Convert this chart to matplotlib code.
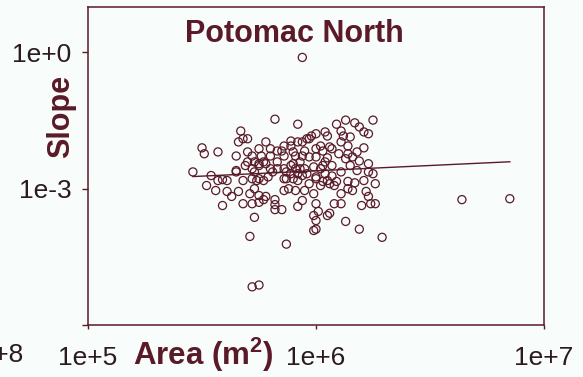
import numpy as np
import matplotlib
matplotlib.use("Agg")
import matplotlib.pyplot as plt

plt.rcParams['font.family'] = ['Liberation Sans', 'DejaVu Sans']
plt.rcParams['mathtext.fontset'] = 'custom'
plt.rcParams['mathtext.bf'] = 'Liberation Sans:bold'
plt.rcParams['mathtext.rm'] = 'Liberation Sans'

# Drainage area (log10 m^2) and channel slope (log10) for each reach
log_area = [
    5.94, 6.64, 6.85, 5.72, 5.75, 5.71, 5.87, 6.29, 6.19, 6.13, 5.99, 6.00, 5.73, 5.59, 5.46,
    5.50, 5.51, 5.57, 5.54, 5.57, 5.61, 5.59, 5.65, 5.67, 5.66, 5.68, 5.70, 5.70, 5.65, 5.70,
    5.72, 5.75, 5.73, 5.74, 5.68, 5.72, 5.65, 5.52, 5.56, 5.61, 5.63, 5.66, 5.68, 5.72, 5.71,
    5.73, 5.73, 5.69, 5.72, 5.75, 5.76, 5.75, 5.75, 5.75, 5.75,
    5.77, 5.78, 5.78, 5.80, 5.82, 5.83, 5.83, 5.86, 5.86, 5.89, 5.89, 5.90, 5.92, 5.92, 5.77,
    5.81, 5.86, 5.87, 5.90, 5.92, 5.77, 5.78, 5.82, 5.82, 5.82, 5.85, 5.92, 5.89, 5.80, 5.91,
    5.83, 5.80, 5.79, 5.88, 5.91, 5.86, 5.87, 5.85, 5.90,
    5.94, 5.96, 5.98, 6.00, 6.04, 6.05, 6.02, 6.00, 5.95, 6.06, 6.05, 5.97, 5.93, 6.03, 5.99,
    6.07, 6.11, 5.94, 5.92, 6.00, 6.02, 5.97, 6.05, 6.08, 5.95, 5.99, 6.11, 5.94, 6.00, 6.01,
    5.99, 6.00, 6.05, 6.06, 6.08, 6.11, 6.03, 5.97, 6.03, 5.94, 6.00, 6.04, 5.95, 6.02, 6.07,
    6.09, 6.09, 6.11, 6.07, 6.10, 6.11,
    6.13, 6.17, 6.19, 6.21, 6.23, 6.25, 6.12, 6.15, 6.14, 6.21, 6.18, 6.14, 6.16, 6.19, 6.23,
    6.18, 6.25, 6.26, 6.21, 6.17, 6.14, 6.16, 6.22, 6.23, 6.14, 6.20, 6.24, 6.26, 6.13, 6.15,
    6.23,
    5.96, 6.00, 6.04, 5.93, 5.91, 6.06, 5.89, 5.86,
]
log_slope = [
    -0.11, -3.24, -3.22, -5.16, -5.12, -4.05, -4.22, -4.07, -3.89, -3.72, -3.92, -3.89, -3.63, -3.37, -2.63,
    -2.10, -2.23, -2.19, -2.71, -2.82, -2.82, -2.80, -2.28, -1.73, -1.97, -1.90, -1.90, -2.19, -2.60, -2.41,
    -2.28, -2.45, -2.63, -2.82, -2.82, -2.78, -2.63, -2.93, -3.04, -3.06, -3.17, -3.06, -3.33, -3.33, -3.11,
    -3.00, -2.41, -2.49, -2.56, -2.12, -2.28, -2.49, -2.78, -3.30, -3.15,
    -2.41, -1.97, -2.45, -2.12, -1.47, -2.17, -2.56, -2.06, -2.28, -1.95, -2.49, -2.45, -1.58, -1.97, -2.82,
    -2.63, -2.78, -2.63, -2.78, -2.67, -3.24, -3.17, -3.24, -3.35, -3.46, -3.46, -3.39, -2.06, -2.28, -2.28,
    -2.41, -2.56, -2.74, -3.00, -3.04, -3.04, -2.78, -2.17, -2.19,
    -1.97, -1.90, -1.84, -1.79, -1.75, -1.84, -2.06, -2.12, -2.17, -2.08, -2.32, -2.30, -2.41, -2.49, -2.52,
    -2.49, -2.63, -2.71, -2.82, -2.78, -2.93, -2.89, -2.82, -2.93, -3.04, -3.11, -3.11, -3.26, -3.33, -3.50,
    -3.59, -3.70, -3.59, -3.54, -3.33, -3.33, -2.84, -1.90, -2.17, -2.28, -2.30, -2.41, -2.56, -2.56, -2.72,
    -2.84, -1.58, -1.73, -2.12, -2.23, -1.97,
    -1.49, -1.55, -1.64, -1.75, -1.79, -1.49, -1.84, -1.86, -2.06, -2.10, -2.19, -2.23, -2.30, -2.39, -2.45,
    -2.60, -2.67, -2.89, -2.82, -2.87, -2.84, -3.04, -3.06, -3.17, -3.00, -3.37, -3.33, -3.33, -2.34, -2.49,
    -2.63,
    -2.67, -2.74, -2.67, -2.56, -2.56, -2.89, -2.67, -2.56,
]

# power-law trend: log10(slope) = fit_intercept + fit_exponent * log10(area)
fit_exponent = 0.234
fit_intercept = -4.01

x_ticks = [1e5, 1e6, 1e7]
x_labels = ['1e+5', '1e+6', '1e+7']
y_ticks = [1e-6, 1e-3, 1e0]
y_labels = ['', '1e-3', '1e+0']

maroon = '#5a1a28'
ink = '#2b1a1e'
bg = '#f8fcfb'

la = np.array(log_area)
ls = np.array(log_slope)
area = 10 ** la
slope = 10 ** ls

xfit = np.array([la.min(), la.max()])
yfit = fit_intercept + fit_exponent * xfit

fig = plt.figure(figsize=(5.83, 3.77), dpi=100, facecolor=bg)
ax = fig.add_axes([88 / 583, 1 - 325 / 377, 456 / 583, 318 / 377])
ax.set_facecolor(bg)

ax.scatter(area, slope, s=34, facecolors='none', edgecolors=maroon, linewidths=0.9, zorder=3)
ax.plot(10 ** xfit, 10 ** yfit, color=maroon, lw=1.0, zorder=2)

ax.set_xscale('log')
ax.set_yscale('log')
ax.set_xlim(1e5, 1e7)
ax.set_ylim(1e-6, 1e1)
ax.set_xticks(x_ticks)
ax.set_xticklabels(x_labels)
ax.set_yticks(y_ticks)
ax.set_yticklabels(y_labels)
ax.minorticks_off()

for sp in ax.spines.values():
    sp.set_color(maroon)
    sp.set_linewidth(1.1)

ax.tick_params(axis='x', length=3, width=1.0, color=maroon, pad=12, labelsize=19, labelcolor=ink)
ax.tick_params(axis='y', length=4, width=1.0, color=maroon, pad=8, labelsize=19, labelcolor=ink)

ax.text(0.453, 0.915, 'Potomac North', transform=ax.transAxes, ha='center', va='center',
        fontsize=22, fontweight='bold', color=maroon)

fig.text(61 / 583, 1 - 116 / 377, 'Slope', rotation=90, ha='center', va='center',
         fontsize=22, fontweight='bold', color=maroon)
fig.text(203 / 583, 1 - 355 / 377, r'Area (m$^{\mathbf{2}}$)', ha='center', va='center',
         fontsize=22.5, fontweight='bold', color=maroon)

# tail of the neighbouring panel's axis label
fig.text(23 / 583, 1 - 355 / 377, '1e+8', ha='right', va='center', fontsize=19, color=ink)

fig.savefig('out.png', dpi=100, facecolor=bg)
